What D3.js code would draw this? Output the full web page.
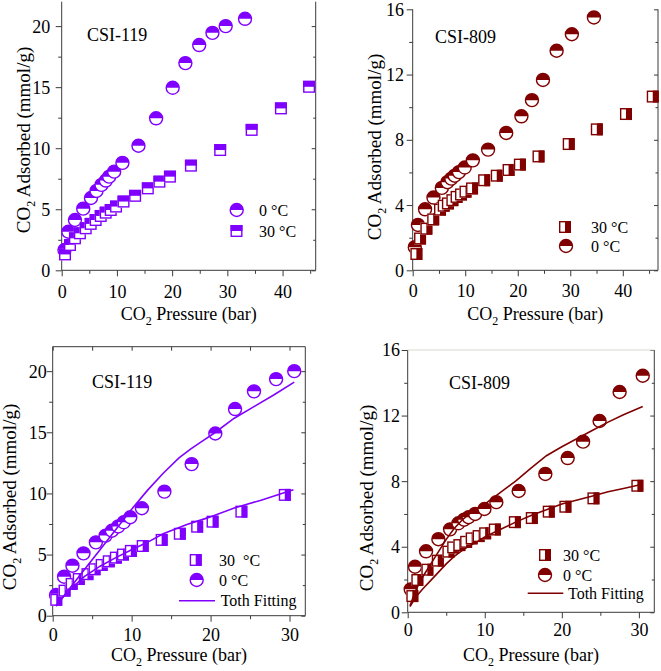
<!DOCTYPE html>
<html><head><meta charset="utf-8">
<script src="https://cdn.jsdelivr.net/npm/d3@7"></script>
<style>
body{margin:0;background:#fff;}
svg{display:block;}
text{font-family:"Liberation Serif","Times New Roman",serif;fill:#000;}
</style>
</head><body>
<svg id="chart" width="661" height="671"></svg>
<script>
// ---------------- DATA ----------------
const tempLabels = ["0 °C", "30 °C"];
const fitLabel = "Toth Fitting";
const titles = ["CSI-119", "CSI-809", "CSI-119", "CSI-809"];

const xTicksTop = [0, 10, 20, 30, 40];
const xTicksBottom = [0, 10, 20, 30];
const yTicks119 = [0, 5, 10, 15, 20];
const yTicks809 = [0, 4, 8, 12, 16];

// Panel a: CSI-119, full range
const a_0C = [[0.5,1.66],[1.2,3.16],[2.4,4.12],[3.9,5.05],[5.3,5.92],[6.3,6.5],[7.2,7.0],[8.0,7.35],[8.6,7.67],[9.5,8.08],[11.0,8.8],[13.9,10.2],[17.1,12.45],[20.1,14.95],[22.4,16.97],[24.9,18.45],[27.3,19.45],[29.7,20.0],[33.2,20.6]];
const a_30C = [[0.6,1.3],[1.5,2.07],[2.4,2.62],[3.3,3.03],[4.35,3.44],[5.25,3.8],[6.15,4.12],[7.07,4.45],[7.97,4.72],[8.88,4.94],[9.84,5.22],[11.2,5.63],[13.3,6.1],[15.6,6.71],[17.7,7.26],[19.6,7.67],[23.4,8.57],[28.7,9.85],[34.4,11.5],[39.7,13.26],[44.8,15.03]];

// Panel b: CSI-809, full range
const b_0C = [[0.4,1.42],[1.0,2.78],[2.35,3.74],[3.95,4.46],[5.55,5.05],[6.6,5.4],[7.35,5.62],[8.0,5.8],[8.8,6.02],[9.9,6.3],[11.45,6.74],[14.35,7.4],[17.8,8.42],[20.7,9.44],[22.7,10.43],[24.8,11.67],[27.4,13.46],[30.3,14.47],[34.5,15.5]];
const b_30C = [[0.7,1.0],[1.4,1.95],[2.6,2.55],[3.9,3.12],[5.2,3.72],[5.9,3.96],[6.7,4.1],[7.55,4.3],[8.35,4.5],[9.2,4.65],[10.05,4.82],[11.3,5.02],[13.6,5.52],[16.0,5.8],[18.25,6.15],[20.4,6.48],[23.95,6.98],[29.7,7.74],[35.05,8.64],[40.6,9.58],[45.7,10.65]];

// Panel c: CSI-119 with Toth fit
const c_0C = [[0.42,1.69],[1.44,3.19],[2.5,4.09],[3.9,5.1],[5.47,6.0],[6.7,6.55],[7.5,6.95],[8.3,7.3],[9.0,7.64],[9.83,8.05],[11.3,8.79],[14.15,10.15],[17.6,12.4],[20.6,14.9],[23.1,16.9],[25.5,18.35],[28.3,19.35],[30.6,20.0]];
const c_30C = [[0.45,1.3],[1.5,2.05],[2.4,2.6],[3.3,3.0],[4.4,3.4],[5.3,3.8],[6.2,4.15],[7.1,4.45],[8.0,4.75],[8.9,5.0],[9.9,5.3],[11.4,5.7],[13.8,6.2],[16.1,6.7],[18.3,7.28],[20.25,7.69],[23.9,8.51],[29.4,9.88]];
const c_fit0C = [[0.4,0.8],[2,2.1],[4,3.75],[6,5.4],[8,7.05],[10,8.7],[12,10.25],[14,11.65],[16,12.9],[17.5,13.65],[19,14.3],[20.4,14.9],[23,16.15],[25.5,17.1],[28,18.05],[30.6,19.1]];
const c_fit30C = [[0.4,0.8],[1.8,1.9],[4,3.2],[6,4.05],[8,4.75],[10,5.4],[12,6.0],[14,6.7],[17,7.45],[19.6,8.0],[23,8.8],[26.4,9.45],[29.5,10.1],[30.5,10.3]];

// Panel d: CSI-809 with Toth fit
const d_0C = [[0.39,1.4],[0.95,2.78],[2.38,3.72],[3.98,4.46],[5.5,5.06],[6.58,5.43],[7.32,5.65],[7.9,5.8],[8.75,6.0],[9.96,6.3],[11.5,6.72],[14.4,7.4],[17.86,8.44],[20.76,9.41],[22.76,10.41],[24.9,11.67],[27.5,13.44],[30.5,14.43]];
const d_30C = [[0.6,0.99],[1.25,1.97],[2.55,2.6],[3.9,3.15],[5.28,3.7],[5.9,3.96],[6.7,4.1],[7.58,4.3],[8.3,4.51],[9.2,4.65],[10.05,4.82],[11.3,5.05],[13.9,5.5],[16.1,5.75],[18.3,6.14],[20.46,6.44],[24.1,6.95],[29.8,7.72]];
const d_fit0C = [[0.3,0.4],[1,1.3],[2,2.2],[3,2.95],[4,3.7],[5,4.45],[6,5.1],[7,5.6],[8,6.0],[9,6.3],[10,6.6],[12,7.3],[14,8.0],[16,8.8],[18,9.55],[20,10.1],[22,10.6],[24,11.1],[26,11.6],[28,12.05],[30.5,12.55]];
const d_fit30C = [[0.3,0.35],[1,0.9],[2,1.45],[3,1.95],[4,2.45],[5,2.95],[6,3.4],[7,3.75],[8,4.05],[9,4.3],[10,4.6],[12,5.05],[14,5.5],[16,5.9],[18,6.25],[20,6.6],[22,6.85],[24,7.1],[26,7.35],[28,7.55],[30.3,7.8]];

// ---------------- STYLE / LAYOUT ----------------
const PURPLE = "#8000ff";
const WINE = "#800000";
const AXIS = "#3a3a3a";
const R = 6.5, S = 12;

const svg = d3.select("#chart");

const panels = [
  {L:61.7,Rt:315.7,T:1.7,B:270.3,xDom:[0,46],yDom:[0,22],xT:xTicksTop,yT:yTicks119,color:PURPLE,
   series:[{data:a_0C,shape:"circle"},{data:a_30C,shape:"sqTop"}],
   legend:[{shape:"circle",x:236.7,y:210,label:tempLabels[0],tx:259},{shape:"sqTop",x:236.5,y:231,label:tempLabels[1],tx:259}],
   title:titles[0],titleX:87,titleY:41,xLabY:28,yLabGap:11.5,xTitleY:320,yTitleX:30,yTitleY:140,topBorder:false},
  {L:412.7,Rt:658,T:9.3,B:270.3,xDom:[0,46.7],yDom:[0,16],xT:xTicksTop,yT:yTicks809,color:WINE,
   series:[{data:b_0C,shape:"circle"},{data:b_30C,shape:"sqRight"}],
   legend:[{shape:"sqRight",x:565,y:227,label:tempLabels[1],tx:591},{shape:"circle",x:566,y:246,label:tempLabels[0],tx:591}],
   title:titles[1],titleX:435,titleY:43,xLabY:27,yLabGap:8.7,xTitleY:320,yTitleX:381,yTitleY:147,topBorder:false},
  {L:52.7,Rt:305.3,T:346.7,B:615.7,xDom:[0,32],yDom:[0,22],xT:xTicksBottom,yT:yTicks119,color:PURPLE,
   series:[{data:c_0C,shape:"circle"},{data:c_30C,shape:"sqRight"}],
   fits:[c_fit0C,c_fit30C],
   legend:[{shape:"sqRight",x:195.7,y:560,label:"30  °C",tx:219},{shape:"circle",x:196.7,y:580,label:tempLabels[0],tx:219},{shape:"line",x1:179,x2:215,y:600.7,label:fitLabel,tx:220.7}],
   title:titles[2],titleX:92,titleY:388,xLabY:25,yLabGap:6,xTitleY:661,yTitleX:16,yTitleY:497,topBorder:"ticks"},
  {L:407.7,Rt:654.3,T:350,B:612.3,xDom:[0,32],yDom:[0,16],xT:xTicksBottom,yT:yTicks809,color:WINE,
   series:[{data:d_0C,shape:"circle"},{data:d_30C,shape:"sqRight"}],
   fits:[d_fit0C,d_fit30C],
   legend:[{shape:"sqRight",x:545,y:555,label:tempLabels[1],tx:563},{shape:"circle",x:545,y:575,label:tempLabels[0],tx:563},{shape:"line",x1:527.7,x2:563.3,y:593.3,label:fitLabel,tx:568}],
   title:titles[3],titleX:449,titleY:389,xLabY:24,yLabGap:7.7,xTitleY:661,yTitleX:373,yTitleY:498,topBorder:"faint"}
];

function marker(g, shape, cx, cy, color) {
  const m = g.append("g").attr("transform", `translate(${cx},${cy})`);
  if (shape === "circle") {
    m.append("circle").attr("r", R).attr("fill", "#fff");
    m.append("path").attr("d", `M${-R},0 A${R},${R} 0 0 1 ${R},0 Z`).attr("fill", color);
    m.append("circle").attr("r", R).attr("fill", "none").attr("stroke", color).attr("stroke-width", 1.4);
  } else {
    m.append("rect").attr("x", -S/2).attr("y", -S/2).attr("width", S).attr("height", S).attr("fill", "#fff");
    if (shape === "sqTop") {
      m.append("rect").attr("x", -S/2).attr("y", -S/2).attr("width", S).attr("height", S/2).attr("fill", color);
    } else {
      m.append("rect").attr("x", 0).attr("y", -S/2).attr("width", S/2).attr("height", S).attr("fill", color);
    }
    m.append("rect").attr("x", -S/2+0.7).attr("y", -S/2+0.7).attr("width", S-1.4).attr("height", S-1.4)
      .attr("fill", "none").attr("stroke", color).attr("stroke-width", 1.4);
  }
}

function styleAxis(sel) {
  sel.select(".domain").remove();
  sel.selectAll("line").attr("stroke", AXIS).attr("stroke-width", 1);
}

function co2Text(sel, rest) {
  sel.append("tspan").text("CO");
  sel.append("tspan").text("2").attr("font-size", 12).attr("dy", 5);
  sel.append("tspan").text(rest).attr("dy", -5);
}

panels.forEach(p => {
  const g = svg.append("g");
  const x = d3.scaleLinear().domain(p.xDom).range([p.L, p.Rt]);
  const y = d3.scaleLinear().domain(p.yDom).range([p.B, p.T]);
  const xStep = p.xT[1] - p.xT[0], yStep = p.yT[1] - p.yT[0];
  const xMinor = d3.range(xStep/2, p.xDom[1], xStep);
  const yMinor = d3.range(yStep/2, p.yDom[1], yStep);

  const bx = g.append("g").attr("transform", `translate(0,${p.B})`)
    .call(d3.axisBottom(x).tickValues(p.xT).tickSize(6).tickSizeOuter(0));
  styleAxis(bx);
  bx.selectAll("text").attr("y", p.xLabY).attr("dy", 0).attr("font-size", 18).attr("fill", "#000");
  const bxm = g.append("g").attr("transform", `translate(0,${p.B})`)
    .call(d3.axisBottom(x).tickValues(xMinor).tickSize(3.5).tickFormat(""));
  styleAxis(bxm);

  const ly = g.append("g").attr("transform", `translate(${p.L},0)`)
    .call(d3.axisLeft(y).tickValues(p.yT).tickSize(6).tickSizeOuter(0));
  styleAxis(ly);
  ly.selectAll("text").attr("x", -(p.yLabGap)).attr("dy", "0.33em").attr("font-size", 18).attr("fill", "#000");
  const lym = g.append("g").attr("transform", `translate(${p.L},0)`)
    .call(d3.axisLeft(y).tickValues(yMinor).tickSize(3.5).tickFormat(""));
  styleAxis(lym);

  const ry = g.append("g").attr("transform", `translate(${p.Rt},0)`)
    .call(d3.axisLeft(y).tickValues(p.yT).tickSize(4).tickFormat(""));
  styleAxis(ry);
  const rym = g.append("g").attr("transform", `translate(${p.Rt},0)`)
    .call(d3.axisLeft(y).tickValues(yMinor).tickSize(2.5).tickFormat(""));
  styleAxis(rym);

  const fr = g.append("g").attr("stroke", AXIS).attr("stroke-width", 1);
  fr.append("line").attr("x1", p.L).attr("x2", p.L).attr("y1", p.T).attr("y2", p.B);
  fr.append("line").attr("x1", p.L).attr("x2", p.Rt).attr("y1", p.B).attr("y2", p.B);
  fr.append("line").attr("x1", p.Rt).attr("x2", p.Rt).attr("y1", p.T).attr("y2", p.B);
  if (p.topBorder === "ticks") {
    fr.append("line").attr("x1", p.L).attr("x2", p.Rt).attr("y1", p.T).attr("y2", p.T);
    const tx = g.append("g").attr("transform", `translate(0,${p.T})`)
      .call(d3.axisTop(x).tickValues(d3.range(0, p.xDom[1], xStep/2)).tickSize(-4).tickFormat(""));
    styleAxis(tx);
  } else if (p.topBorder === "faint") {
    g.append("line").attr("x1", p.L).attr("x2", p.Rt).attr("y1", p.T).attr("y2", p.T)
      .attr("stroke", "#d9d9cf").attr("stroke-width", 1);
  }

  p.series.forEach(s => {
    s.data.forEach(d => marker(g, s.shape, x(d[0]), y(d[1]), p.color));
  });

  if (p.fits) {
    const line = d3.line().x(d => x(d[0])).y(d => y(d[1]));
    p.fits.forEach(f => g.append("path").attr("d", line(f)).attr("fill", "none")
      .attr("stroke", p.color).attr("stroke-width", 1.6));
  }

  p.legend.forEach(l => {
    if (l.shape === "line") {
      g.append("line").attr("x1", l.x1).attr("x2", l.x2).attr("y1", l.y).attr("y2", l.y)
        .attr("stroke", p.color).attr("stroke-width", 1.6);
    } else {
      marker(g, l.shape, l.x, l.y, p.color);
    }
    g.append("text").attr("x", l.tx).attr("y", l.y + 5.5).attr("font-size", 16)
      .style("white-space", "pre").text(l.label);
  });

  g.append("text").attr("x", p.titleX).attr("y", p.titleY).attr("font-size", 18).text(p.title);

  const xt = g.append("text").attr("x", (p.L + p.Rt) / 2).attr("y", p.xTitleY)
    .attr("text-anchor", "middle").attr("font-size", 18);
  co2Text(xt, " Pressure (bar)");
  const yt = g.append("text").attr("transform", `translate(${p.yTitleX},${p.yTitleY}) rotate(-90)`)
    .attr("text-anchor", "middle").attr("font-size", 19);
  co2Text(yt, " Adsorbed (mmol/g)");
});
</script>
</body></html>
